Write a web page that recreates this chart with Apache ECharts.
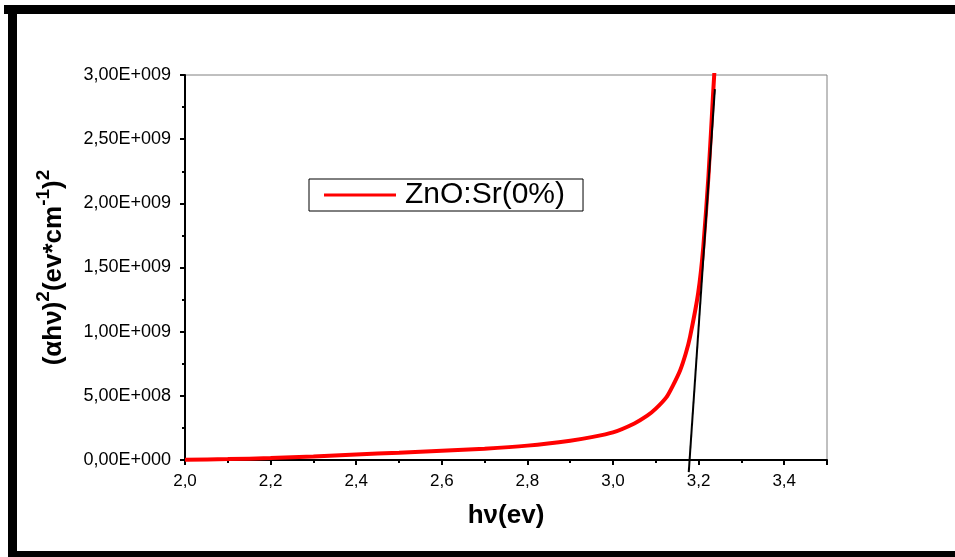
<!DOCTYPE html>
<html>
<head>
<meta charset="utf-8">
<script src="https://cdn.jsdelivr.net/npm/echarts@6/dist/echarts.min.js"></script>
<style>
  html, body { margin: 0; padding: 0; background: #ffffff; }
  #chart { width: 955px; height: 557px; }
</style>
</head>
<body>
<div id="chart"></div>
<script>
// ZnO:Sr(0%) Tauc plot
const hv = [2.0, 2.1, 2.2, 2.3, 2.4, 2.5, 2.6, 2.7, 2.8, 2.9, 2.95, 3.0, 3.05, 3.08, 3.1, 3.125, 3.14, 3.157, 3.17, 3.18, 3.199, 3.211, 3.223, 3.234, 3.24, 3.245]
const alphaHv2 = [0.002e9, 0.007e9, 0.015e9, 0.028e9, 0.043e9, 0.057e9, 0.072e9, 0.088e9, 0.112e9, 0.15e9, 0.178e9, 0.215e9, 0.285e9, 0.345e9, 0.40e9, 0.49e9, 0.58e9, 0.70e9, 0.83e9, 0.96e9, 1.30e9, 1.66e9, 2.21e9, 2.86e9, 3.2e9, 3.5e9]
// tangent line (band gap extrapolation)
const fitX = [3.177, 3.238]
const fitY = [-0.095e9, 2.89e9]
const seriesName = 'ZnO:Sr(0%)'

const font = 'Liberation Sans, Arial, sans-serif'

function yLabel(v) {
  if (v === 0) return '0,00E+000'
  let exp = Math.floor(Math.log10(v) + 1e-9)
  let mant = (v / Math.pow(10, exp)).toFixed(2).replace('.', ',')
  return mant + 'E+' + String(exp).padStart(3, '0')
}

let myChart = echarts.init(document.getElementById('chart'))
let option = {
  backgroundColor: '#ffffff',
  animation: false,
  grid: {
    left: 185,
    right: 128,
    top: 75,
    bottom: 97,
    show: true,
    borderColor: '#808080',
    borderWidth: 1
  },
  legend: {
    data: [seriesName],
    left: 309,
    top: 179,
    icon: 'rect',
    itemWidth: 72,
    itemHeight: 3,
    padding: [1, 18, 1, 15],
    borderColor: '#000000',
    borderWidth: 1,
    backgroundColor: '#ffffff',
    textStyle: {
      fontFamily: font,
      fontSize: 30,
      lineHeight: 28,
      color: '#000000',
      padding: [0, 0, 0, 4]
    }
  },
  xAxis: {
    type: 'value',
    min: 2.0,
    max: 3.5,
    interval: 0.2,
    name: 'h\u03bd(ev)',
    nameLocation: 'middle',
    nameGap: 43,
    nameTextStyle: { fontFamily: font, fontSize: 26, fontWeight: 'bold', color: '#000' },
    axisLine: { onZero: false, lineStyle: { color: '#000', width: 2 } },
    axisTick: { length: 5, lineStyle: { color: '#000', width: 2 } },
    minorTick: { show: true, splitNumber: 2, length: 3, lineStyle: { color: '#000', width: 2 } },
    axisLabel: {
      fontFamily: font, fontSize: 17, color: '#000', margin: 13,
      showMaxLabel: false,
      formatter: v => v.toFixed(1).replace('.', ',')
    },
    splitLine: { show: false }
  },
  yAxis: {
    type: 'value',
    min: 0,
    max: 3e9,
    interval: 5e8,
    name: '(\u03b1h\u03bd){sup|2}(ev*cm{sup|-1}){sup|2}',
    nameLocation: 'middle',
    nameGap: 112,
    nameTextStyle: {
      fontFamily: font, fontSize: 26, fontWeight: 'bold', color: '#000',
      lineHeight: 38,
      rich: {
        sup: { fontFamily: font, fontSize: 19, fontWeight: 'bold', color: '#000', verticalAlign: 'top', lineHeight: 38 }
      }
    },
    axisLine: { lineStyle: { color: '#000', width: 2 } },
    axisTick: { length: 5, lineStyle: { color: '#000', width: 2 } },
    minorTick: { show: true, splitNumber: 2, length: 3, lineStyle: { color: '#000', width: 2 } },
    axisLabel: { fontFamily: font, fontSize: 18, color: '#000', margin: 14, formatter: yLabel },
    splitLine: { show: false }
  },
  graphic: [
    { type: 'rect', shape: { x: 4, y: 5, width: 951, height: 9 }, style: { fill: '#000' } },
    { type: 'rect', shape: { x: 8, y: 5, width: 9, height: 552 }, style: { fill: '#000' } },
    { type: 'rect', shape: { x: 8, y: 551, width: 947, height: 6 }, style: { fill: '#000' } }
  ],
  series: [
    {
      name: seriesName,
      type: 'line',
      data: hv.map((x, i) => [x, alphaHv2[i]]),
      showSymbol: false,
      smooth: 0.2,
      clip: true,
      itemStyle: { color: '#ff0000' },
      lineStyle: { color: '#ff0000', width: 4 },
      z: 3
    },
    {
      name: 'fit',
      type: 'line',
      data: fitX.map((x, i) => [x, fitY[i]]),
      showSymbol: false,
      clip: false,
      lineStyle: { color: '#000000', width: 2 },
      z: 4
    }
  ]
}
myChart.setOption(option, true)
window.onresize = () => myChart.resize()
</script>
</body>
</html>
